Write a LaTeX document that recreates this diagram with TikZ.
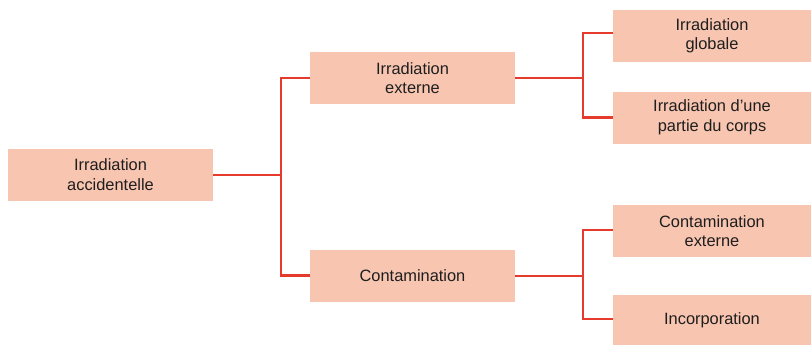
\documentclass[tikz,border=0pt]{standalone}
\usepackage{fontspec}
\setmainfont{Liberation Sans}
\definecolor{boxfill}{HTML}{F8C5B0}
\definecolor{linkred}{HTML}{E63A2C}
\definecolor{txt}{HTML}{1E1E1E}
\begin{document}
\begin{tikzpicture}[x=1pt,y=-1pt,
  box/.style={fill=boxfill, draw=none, inner sep=0pt, align=center,
    text=txt, font=\fontsize{16.4}{19.5}\selectfont,
    minimum height=52pt},
  wide/.style={box, minimum width=205pt},
  leaf/.style={box, minimum width=198pt},
  link/.style={draw=linkred, line width=2.8pt}]
\useasboundingbox (0,0) rectangle (811,345);

% tree of boxes
\node[wide] (acc) at (110.5,174.5) {Irradiation\\accidentelle};
\node[wide] (ext) at (412.5,78) {Irradiation\\externe};
\node[wide] (con) at (412.5,275.5) {Contamination};
\node[leaf] (glo) at (712,36) {Irradiation\\globale};
\node[leaf] (par) at (712,117.5) {Irradiation d’une\\partie du corps};
\node[leaf] (cex) at (712,231) {Contamination\\externe};
\node[leaf] (inc) at (712,320.5) {Incorporation};

% junction points of the connectors
\coordinate (j1) at (281,175);
\coordinate (j2) at (583,78);
\coordinate (j3) at (583,276);

% connectors
\draw[link] (acc.east |- j1) -- (j1);
\draw[link] (ext.west) -| (j1) |- (con.west);
\draw[link] (ext.east) -- (j2);
\draw[link] ([yshift=3pt]glo.west) -| (j2) |- (par.west);
\draw[link] (con.east |- j3) -- (j3);
\draw[link] ([yshift=1pt]cex.west) -| (j3) |- ([yshift=1.5pt]inc.west);
\end{tikzpicture}
\end{document}
